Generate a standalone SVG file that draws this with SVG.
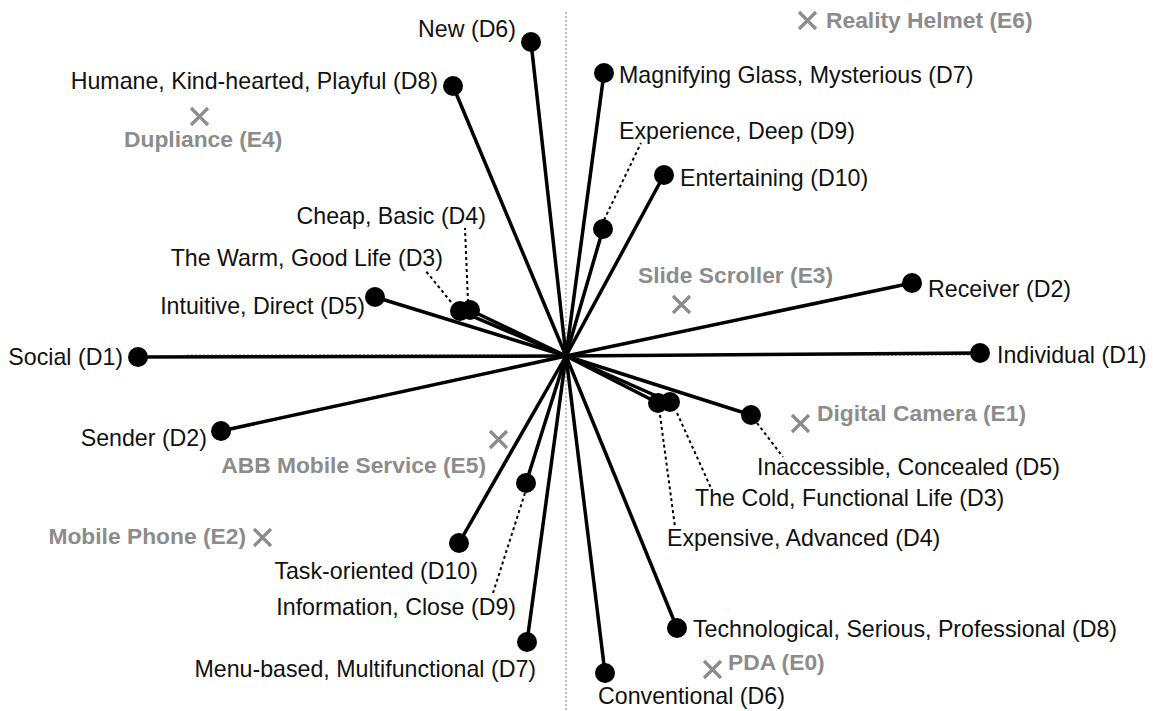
<svg xmlns="http://www.w3.org/2000/svg" width="1153" height="711" viewBox="0 0 1153 711">
<style>
.t{font-family:"Liberation Sans",Arial,sans-serif;font-size:23.2px;fill:#111}
.g{font-family:"Liberation Sans",Arial,sans-serif;font-size:22.8px;font-weight:bold;fill:#8c8c8c}
.r{stroke:#000;stroke-width:3.5;fill:none}
.d{fill:#000}
.l{stroke:#000;stroke-width:2;stroke-dasharray:3 3;fill:none}
.x{stroke:#8c8c8c;stroke-width:3.2;fill:none}
.ax{stroke:#aaa;stroke-width:1.5;stroke-dasharray:2 2;fill:none}
</style>
<rect width="1153" height="711" fill="#fff"/>
<g id="axes">
<line class="ax" x1="566" y1="12" x2="566" y2="711"/>
<line class="ax" x1="187" y1="355" x2="985" y2="355"/>
</g>
<g id="connectors">
<line class="r" x1="138" y1="357" x2="566" y2="356"/>
<line class="r" x1="980" y1="353" x2="566" y2="356"/>
<line class="r" x1="912" y1="283" x2="566" y2="356"/>
<line class="r" x1="221" y1="431" x2="566" y2="356"/>
<line class="r" x1="460" y1="311" x2="566" y2="356"/>
<line class="r" x1="670" y1="402" x2="566" y2="356"/>
<line class="r" x1="470" y1="310" x2="566" y2="356"/>
<line class="r" x1="658" y1="403" x2="566" y2="356"/>
<line class="r" x1="375" y1="297" x2="566" y2="356"/>
<line class="r" x1="751" y1="415" x2="566" y2="356"/>
<line class="r" x1="531" y1="42" x2="566" y2="356"/>
<line class="r" x1="605" y1="673" x2="566" y2="356"/>
<line class="r" x1="604" y1="73" x2="566" y2="356"/>
<line class="r" x1="527" y1="642" x2="566" y2="356"/>
<line class="r" x1="453" y1="86" x2="566" y2="356"/>
<line class="r" x1="677" y1="628" x2="566" y2="356"/>
<line class="r" x1="603" y1="229" x2="566" y2="356"/>
<line class="r" x1="526" y1="483" x2="566" y2="356"/>
<line class="r" x1="664" y1="175" x2="566" y2="356"/>
<line class="r" x1="459" y1="543" x2="566" y2="356"/>
<line class="l" x1="604" y1="220" x2="641" y2="143"/>
<line class="l" x1="468" y1="302" x2="465" y2="228"/>
<line class="l" x1="451" y1="302" x2="425" y2="270"/>
<line class="l" x1="677" y1="413" x2="711" y2="488"/>
<line class="l" x1="660" y1="415" x2="675" y2="527"/>
<line class="l" x1="757" y1="423" x2="783" y2="457"/>
<line class="l" x1="525" y1="493" x2="493" y2="593"/>
</g>
<g id="D1-social"><circle class="d" cx="138" cy="357" r="10"/><text class="t" x="123" y="365" text-anchor="end">Social (D1)</text></g>
<g id="D1-individual"><circle class="d" cx="980" cy="353" r="10"/><text class="t" x="997" y="363">Individual (D1)</text></g>
<g id="D2-receiver"><circle class="d" cx="912" cy="283" r="10"/><text class="t" x="928" y="297">Receiver (D2)</text></g>
<g id="D2-sender"><circle class="d" cx="221" cy="431" r="10"/><text class="t" x="207" y="446" text-anchor="end">Sender (D2)</text></g>
<g id="D3-warm"><circle class="d" cx="460" cy="311" r="10"/><text class="t" x="443" y="266" text-anchor="end">The Warm, Good Life (D3)</text></g>
<g id="D4-cheap"><circle class="d" cx="470" cy="310" r="10"/><text class="t" x="486" y="224" text-anchor="end">Cheap, Basic (D4)</text></g>
<g id="D5-intuitive"><circle class="d" cx="375" cy="297" r="10"/><text class="t" x="365" y="314" text-anchor="end">Intuitive, Direct (D5)</text></g>
<g id="D4-expensive"><circle class="d" cx="658" cy="403" r="10"/><text class="t" x="667" y="546">Expensive, Advanced (D4)</text></g>
<g id="D3-cold"><circle class="d" cx="670" cy="402" r="10"/><text class="t" x="695" y="506">The Cold, Functional Life (D3)</text></g>
<g id="D5-inaccessible"><circle class="d" cx="751" cy="415" r="10"/><text class="t" x="757" y="475">Inaccessible, Concealed (D5)</text></g>
<g id="D6-new"><circle class="d" cx="531" cy="42" r="10"/><text class="t" x="516" y="37" text-anchor="end">New (D6)</text></g>
<g id="D6-conventional"><circle class="d" cx="605" cy="673" r="10"/><text class="t" x="598" y="704">Conventional (D6)</text></g>
<g id="D7-magnifying"><circle class="d" cx="604" cy="73" r="10"/><text class="t" x="619" y="83">Magnifying Glass, Mysterious (D7)</text></g>
<g id="D7-menu"><circle class="d" cx="527" cy="642" r="10"/><text class="t" x="536" y="677" text-anchor="end">Menu-based, Multifunctional (D7)</text></g>
<g id="D8-humane"><circle class="d" cx="453" cy="86" r="10"/><text class="t" x="438" y="89" text-anchor="end">Humane, Kind-hearted, Playful (D8)</text></g>
<g id="D8-technological"><circle class="d" cx="677" cy="628" r="10"/><text class="t" x="693" y="637">Technological, Serious, Professional (D8)</text></g>
<g id="D9-experience"><circle class="d" cx="603" cy="229" r="10"/><text class="t" x="619" y="139">Experience, Deep (D9)</text></g>
<g id="D9-information"><circle class="d" cx="526" cy="483" r="10"/><text class="t" x="516" y="615" text-anchor="end">Information, Close (D9)</text></g>
<g id="D10-entertaining"><circle class="d" cx="664" cy="175" r="10"/><text class="t" x="680" y="186">Entertaining (D10)</text></g>
<g id="D10-task"><circle class="d" cx="459" cy="543" r="10"/><text class="t" x="478" y="579" text-anchor="end">Task-oriented (D10)</text></g>
<g id="E0-pda"><path class="x" d="M704 661 L721 678 M721 661 L704 678"/><text class="g" x="728" y="670">PDA (E0)</text></g>
<g id="E1-camera"><path class="x" d="M792 415 L809 432 M809 415 L792 432"/><text class="g" x="817" y="421">Digital Camera (E1)</text></g>
<g id="E2-phone"><path class="x" d="M254 529 L271 546 M271 529 L254 546"/><text class="g" x="246" y="544" text-anchor="end">Mobile Phone (E2)</text></g>
<g id="E3-scroller"><path class="x" d="M673 296 L690 313 M690 296 L673 313"/><text class="g" x="638" y="283">Slide Scroller (E3)</text></g>
<g id="E4-dupliance"><path class="x" d="M191 108 L208 125 M208 108 L191 125"/><text class="g" x="124" y="147">Dupliance (E4)</text></g>
<g id="E5-abb"><path class="x" d="M490 431 L507 448 M507 431 L490 448"/><text class="g" x="486" y="473" text-anchor="end">ABB Mobile Service (E5)</text></g>
<g id="E6-helmet"><path class="x" d="M799 12 L816 29 M816 12 L799 29"/><text class="g" x="826" y="28">Reality Helmet (E6)</text></g>
</svg>
